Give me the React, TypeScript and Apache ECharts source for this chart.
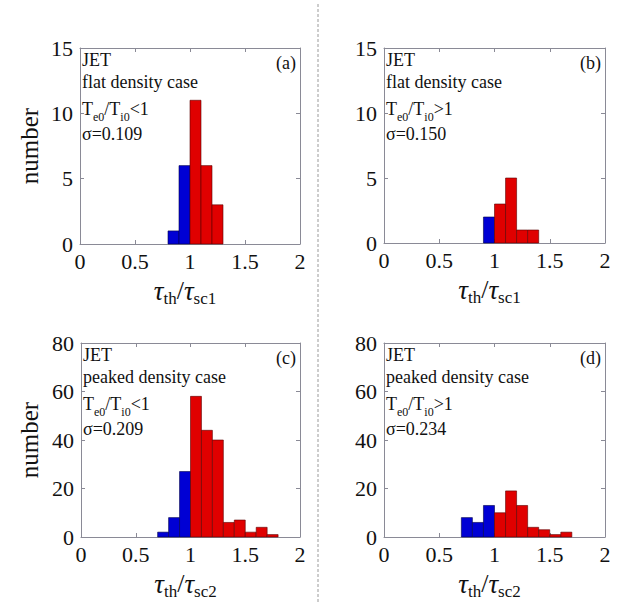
import React, { useEffect, useRef } from "react";
import * as echarts from "echarts";

// ---- data (bin starts, bin width 0.1, counts) ----
const binWidth = 0.1;
const binsA = [0.8, 0.9, 1.0, 1.1, 1.2];
const countsA = [1, 6, 11, 6, 3];
const binsB = [0.9, 1.0, 1.1, 1.2, 1.3];
const countsB = [2, 3, 5, 1, 1];
const binsC = [0.7, 0.8, 0.9, 1.0, 1.1, 1.2, 1.3, 1.4, 1.5, 1.6, 1.7];
const countsC = [2, 8, 27, 58, 44, 40, 6, 7, 2, 4, 1];
const binsD = [0.7, 0.8, 0.9, 1.0, 1.1, 1.2, 1.3, 1.4, 1.5, 1.6];
const countsD = [8, 6, 13, 10, 19, 13, 4, 3, 1, 2];

const panelLetters = ["(a)", "(b)", "(c)", "(d)"];
const caseNames = ["flat density case", "flat density case", "peaked density case", "peaked density case"];
const ratioSigns = ["<1", ">1", "<1", ">1"];
const sigmas = ["σ=0.109", "σ=0.150", "σ=0.209", "σ=0.234"];
const xTitleSubs = ["sc1", "sc1", "sc2", "sc2"];
const yMaxTop = 15;
const yIntTop = 5;
const yMaxBottom = 80;
const yIntBottom = 20;

const FONT = "Liberation Serif";
const AXIS_COLOR = "#8a8a96";
const BLUE = "#0000d4";
const RED = "#e00000";

type Grid = { left: number; top: number; width: number; height: number };
const grids: Grid[] = [
  { left: 80, top: 48, width: 220, height: 196 },
  { left: 384, top: 48, width: 221, height: 195 },
  { left: 81, top: 343, width: 219, height: 194 },
  { left: 384, top: 343, width: 221, height: 194 },
];

export default function App() {
  const ref = useRef<HTMLDivElement>(null);
  useEffect(() => {
    document.body.style.margin = "0";
    if (!ref.current) return;
    const chart = echarts.init(ref.current, null, { renderer: "svg" });

    const binsAll = [binsA, binsB, binsC, binsD];
    const countsAll = [countsA, countsB, countsC, countsD];

    const xAxes: any[] = [];
    const yAxes: any[] = [];
    grids.forEach((g, i) => {
      const common = {
        type: "value",
        gridIndex: i,
        min: 0,
        max: 2,
        interval: 0.5,
        axisLine: { show: true, onZero: false, lineStyle: { color: AXIS_COLOR, width: 1 } },
        axisTick: { show: true, inside: true, length: 4, lineStyle: { color: AXIS_COLOR } },
        splitLine: { show: false },
      };
      xAxes.push({
        ...common,
        position: "bottom",
        axisLabel: { show: true, fontFamily: FONT, fontSize: 22, color: "#111", margin: 6 },
      });
      xAxes.push({ ...common, position: "top", axisLabel: { show: false } });
      const ymax = i < 2 ? yMaxTop : yMaxBottom;
      const yint = i < 2 ? yIntTop : yIntBottom;
      const ycommon = {
        type: "value",
        gridIndex: i,
        min: 0,
        max: ymax,
        interval: yint,
        axisLine: { show: true, onZero: false, lineStyle: { color: AXIS_COLOR, width: 1 } },
        axisTick: { show: true, inside: true, length: 4, lineStyle: { color: AXIS_COLOR } },
        splitLine: { show: false },
      };
      yAxes.push({
        ...ycommon,
        position: "left",
        axisLabel: { show: true, fontFamily: FONT, fontSize: 22, color: "#111", margin: 7 },
      });
      yAxes.push({ ...ycommon, position: "right", axisLabel: { show: false } });
    });

    const series = binsAll.map((bins, i) => ({
      type: "custom",
      xAxisIndex: i * 2,
      yAxisIndex: i * 2,
      data: bins.map((b, k) => [b, countsAll[i][k]]),
      encode: { x: 0, y: 1 },
      renderItem: (_p: any, api: any) => {
        const x0 = api.value(0);
        const y = api.value(1);
        const p0 = api.coord([x0, 0]);
        const p1 = api.coord([x0 + binWidth, y]);
        const blue = x0 < 1 - 1e-9;
        return {
          type: "rect",
          shape: { x: p0[0], y: p1[1], width: p1[0] - p0[0], height: p0[1] - p1[1] },
          style: {
            fill: blue ? BLUE : RED,
            stroke: blue ? "#00004a" : "#5a0000",
            lineWidth: 0.6,
          },
        };
      },
    }));

    const graphics: any[] = [];
    // divider
    graphics.push({
      type: "line",
      shape: { x1: 318, y1: 4, x2: 318, y2: 603 },
      style: { stroke: "#9a9a9a", lineWidth: 1, lineDash: [3, 2] },
    });
    grids.forEach((g, i) => {
      const tx = g.left + 2;
      const textStyle = { fontFamily: FONT, fontSize: 18, fill: "#111" };
      graphics.push({
        type: "text",
        x: tx,
        y: g.top + 12,
        style: { ...textStyle, text: "JET", align: "left", verticalAlign: "middle" },
      });
      graphics.push({
        type: "text",
        x: tx,
        y: g.top + 34,
        style: { ...textStyle, text: caseNames[i], align: "left", verticalAlign: "middle" },
      });
      graphics.push({
        type: "text",
        x: tx,
        y: g.top + 61,
        style: {
          ...textStyle,
          text: "{m|T}{s|e0}{m|/T}{s|i0}{m|" + ratioSigns[i] + "}",
          align: "left",
          verticalAlign: "middle",
          rich: {
            m: { fontFamily: FONT, fontSize: 18, lineHeight: 18, verticalAlign: "top", fill: "#111" },
            s: { fontFamily: FONT, fontSize: 12, lineHeight: 12, padding: [11, 0, 0, 0], verticalAlign: "top", fill: "#111" },
          },
        },
      });
      graphics.push({
        type: "text",
        x: tx,
        y: g.top + 86,
        style: { ...textStyle, text: sigmas[i], align: "left", verticalAlign: "middle" },
      });
      graphics.push({
        type: "text",
        x: g.left + g.width - 4,
        y: g.top + 15,
        style: { ...textStyle, text: panelLetters[i], align: "right", verticalAlign: "middle" },
      });
      // x axis title
      graphics.push({
        type: "text",
        x: g.left + g.width / 2 - 5,
        y: g.top + g.height + 47,
        style: {
          text: "{t|τ}{s|th}{n|/}{t|τ}{s|" + xTitleSubs[i] + "}",
          align: "center",
          verticalAlign: "middle",
          fill: "#111",
          rich: {
            t: { fontFamily: FONT, fontStyle: "italic", fontSize: 27, lineHeight: 27, verticalAlign: "top", fill: "#111" },
            n: { fontFamily: FONT, fontSize: 26, lineHeight: 27, verticalAlign: "top", fill: "#111" },
            s: { fontFamily: FONT, fontSize: 17, lineHeight: 17, padding: [12, 0, 0, 0], verticalAlign: "top", fill: "#111" },
          },
        },
      });
      if (i % 2 === 0) {
        graphics.push({
          type: "text",
          x: 29,
          y: g.top + g.height / 2,
          rotation: Math.PI / 2,
          style: { text: "number", fontFamily: FONT, fontSize: 25, fill: "#111", align: "center", verticalAlign: "middle" },
        });
      }
    });

    chart.setOption({
      animation: false,
      backgroundColor: "#ffffff",
      grid: grids.map((g) => ({ ...g, containLabel: false })),
      xAxis: xAxes,
      yAxis: yAxes,
      series,
      graphic: graphics,
    });
    return () => chart.dispose();
  }, []);
  return <div ref={ref} style={{ width: 618, height: 603 }} />;
}
